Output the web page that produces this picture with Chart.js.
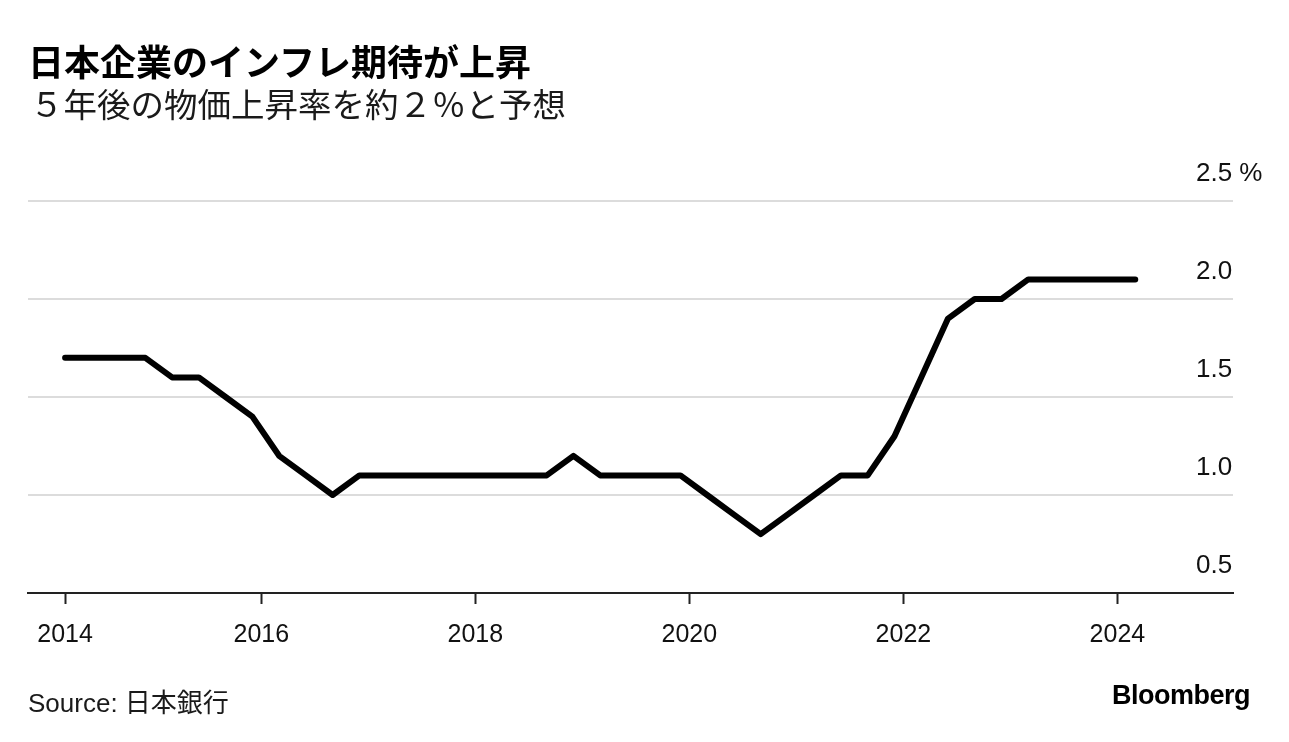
<!DOCTYPE html>
<html>
<head>
<meta charset="utf-8">
<script src="https://cdn.jsdelivr.net/npm/chart.js@4/dist/chart.umd.min.js"></script>
<style>
  html, body { margin: 0; padding: 0; background: #fff; }
  #wrap { position: relative; width: 1289px; height: 742px; overflow: hidden; }
  #wrap canvas { position: absolute; left: 0; top: 0; }
  .txt { position: absolute; white-space: nowrap; font-family: "Liberation Sans", "Noto Sans CJK JP", sans-serif; color: #000; }
  #title { left: 28px; top: 34px; font-size: 36px; font-weight: bold; }
  #subtitle { left: 30px; top: 78px; font-size: 33.5px; color: #1a1a1a; }
  #source { left: 28px; top: 682px; font-size: 26px; color: #1a1a1a; }
  #brand { right: 39px; top: 680px; font-size: 27px; font-weight: bold; letter-spacing: -0.5px; }
</style>
</head>
<body>
<div id="wrap">
  <canvas id="chart" width="1289" height="742"></canvas>
  <div class="txt" id="title">日本企業のインフレ期待が上昇</div>
  <div class="txt" id="subtitle">５年後の物価上昇率を約２％と予想</div>
  <div class="txt" id="source">Source: 日本銀行</div>
  <div class="txt" id="brand">Bloomberg</div>
</div>
<script>
//  Data: Tankan, 5-year-ahead price expectations (quarterly survey)
const quarters = [
    '2014-03', '2014-06', '2014-09', '2014-12',
    '2015-03', '2015-06', '2015-09', '2015-12',
    '2016-03', '2016-06', '2016-09', '2016-12',
    '2017-03', '2017-06', '2017-09', '2017-12',
    '2018-03', '2018-06', '2018-09', '2018-12',
    '2019-03', '2019-06', '2019-09', '2019-12',
    '2020-03', '2020-06', '2020-09', '2020-12',
    '2021-03', '2021-06', '2021-09', '2021-12',
    '2022-03', '2022-06', '2022-09', '2022-12',
    '2023-03', '2023-06', '2023-09', '2023-12',
    '2024-03'
];
const expectation = [
    1.7, 1.7, 1.7, 1.7,
    1.6, 1.6, 1.5, 1.4,
    1.2, 1.1, 1.0, 1.1,
    1.1, 1.1, 1.1, 1.1,
    1.1, 1.1, 1.1, 1.2,
    1.1, 1.1, 1.1, 1.1,
    1.0, 0.9, 0.8, 0.9,
    1.0, 1.1, 1.1, 1.3,
    1.6, 1.9, 2.0, 2.0,
    2.1, 2.1, 2.1, 2.1,
    2.1
];
const xTickYears = [2014, 2016, 2018, 2020, 2022, 2024];
const yTicks = [0.5, 1.0, 1.5, 2.0, 2.5];
const yTickLabels = ['0.5', '1.0', '1.5', '2.0', '2.5 %'];

// quarter string -> decimal year for the linear x scale
const toYear = q => {
    const [y, m] = q.split('-').map(Number);
    return y + (m - 1) / 12;
};
const points = quarters.map((q, i) => ({ x: toYear(q), y: expectation[i] }));
const firstX = points[0].x;

const latin = '"Liberation Sans", "Noto Sans CJK JP", sans-serif';

// y labels sit above their gridlines and start inside the plot, so the
// scale's own (clipped) label drawing can't place them - draw them here
const yLabelPlugin = {
    id: 'yLabels',
    afterDraw(chart) {
        const { ctx } = chart;
        const y = chart.scales.y;
        ctx.save();
        ctx.font = '26px ' + latin;
        ctx.fillStyle = '#111';
        ctx.textAlign = 'left';
        ctx.textBaseline = 'middle';
        yTicks.forEach((v, i) => {
            ctx.fillText(yTickLabels[i], chart.chartArea.right - 37, y.getPixelForValue(v) - 27);
        });
        ctx.restore();
    }
};

new Chart(document.getElementById('chart'), {
    type: 'line',
    data: {
        datasets: [{
            data: points,
            borderColor: '#000',
            borderWidth: 6,
            borderCapStyle: 'round',
            borderJoinStyle: 'round',
            pointRadius: 0,
            tension: 0,
            fill: false
        }]
    },
    options: {
        responsive: false,
        animation: false,
        layout: { padding: { left: 28, top: 201, right: 0, bottom: 0 } },
        plugins: {
            legend: { display: false },
            tooltip: { enabled: false }
        },
        scales: {
            x: {
                type: 'linear',
                min: 2013.82,
                max: 2025.08,
                afterFit: s => { s.height = 149; },
                afterBuildTicks: s => {
                    s.ticks = xTickYears.map(y => ({ value: Math.max(y, firstX) }));
                },
                border: { display: true, color: '#222', width: 2 },
                grid: {
                    drawOnChartArea: false,
                    drawTicks: true,
                    tickLength: 11,
                    tickWidth: 2,
                    tickColor: '#222'
                },
                ticks: {
                    autoSkip: false,
                    maxRotation: 0,
                    padding: 16,
                    color: '#111',
                    font: { family: latin, size: 25 },
                    callback: v => String(Math.floor(v))
                }
            },
            y: {
                position: 'right',
                min: 0.5,
                max: 2.5,
                afterFit: s => { s.width = 56; },
                afterBuildTicks: s => {
                    s.ticks = yTicks.map(v => ({ value: v }));
                },
                border: { display: false },
                grid: {
                    drawTicks: false,
                    lineWidth: 2,
                    color: ctx => ctx.tick && ctx.tick.value === 0.5 ? 'rgba(0,0,0,0)' : '#dcdcdc'
                },
                ticks: { display: false }
            }
        }
    },
    plugins: [yLabelPlugin]
});
</script>
</body>
</html>
